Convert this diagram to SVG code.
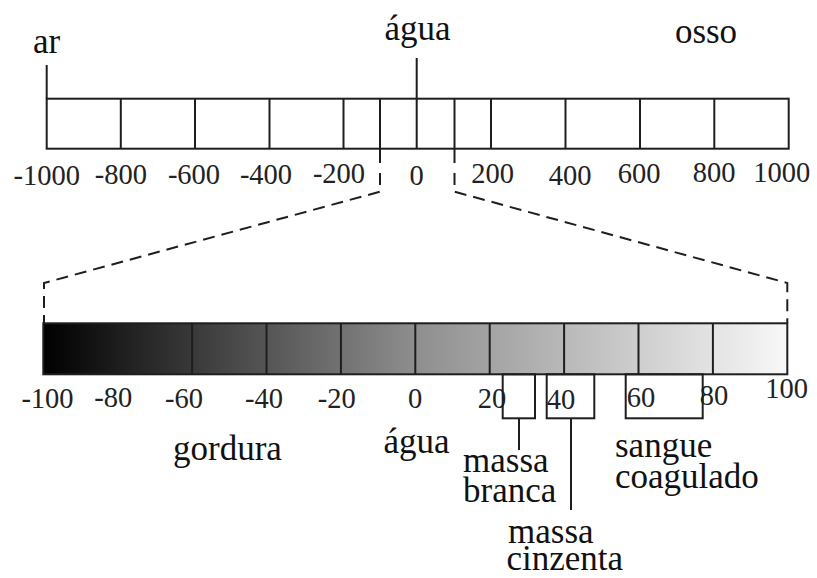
<svg xmlns="http://www.w3.org/2000/svg" width="817" height="578" viewBox="0 0 817 578">
<style>
.ln{stroke:#1e1e1e;stroke-width:2;fill:none}
.ds{stroke:#1e1e1e;stroke-width:2;fill:none;stroke-dasharray:12 7}
.lb{font-family:"Liberation Serif","Times New Roman",serif;font-size:35px;fill:#111}
.nm{font-family:"Liberation Serif","Times New Roman",serif;font-size:28.5px;fill:#222;text-anchor:middle}
</style>
<defs>
<linearGradient id="g" x1="43" y1="0" x2="787" y2="0" gradientUnits="userSpaceOnUse">
<stop offset="0" stop-color="#000"/>
<stop offset="0.5" stop-color="#8e8e8e"/>
<stop offset="1" stop-color="#f8f8f8"/>
</linearGradient>
</defs>
<rect width="817" height="578" fill="#fff"/>

<g id="top-scale">
<rect x="46.7" y="98.7" width="742" height="50" class="ln"/>
<path class="ln" d="M120.8 98.7V148.7M195 98.7V148.7M269.5 98.7V148.7M343.5 98.7V148.7M380 98.7V163M416.7 58V148.7M454.5 98.7V163M491 98.7V148.7M565.5 98.7V148.7M640 98.7V148.7M714.3 98.7V148.7M46.7 65V98.7"/>
<text class="nm" x="46.7" y="185">-1000</text>
<text class="nm" x="120.8" y="184">-800</text>
<text class="nm" x="194" y="184">-600</text>
<text class="nm" x="266" y="184">-400</text>
<text class="nm" x="339" y="183">-200</text>
<text class="nm" x="416.7" y="185">0</text>
<text class="nm" x="492.5" y="183">200</text>
<text class="nm" x="570" y="185">400</text>
<text class="nm" x="639" y="183">600</text>
<text class="nm" x="714" y="182">800</text>
<text class="nm" x="781.7" y="182">1000</text>
</g>

<g id="top-labels">
<text class="lb" x="33" y="53">ar</text>
<text class="lb" x="417.5" y="40" text-anchor="middle">água</text>
<text class="lb" x="706" y="43" text-anchor="middle">osso</text>
</g>

<g id="connectors">
<path class="ds" d="M380 173V191.7L44 283V323"/>
<path class="ds" d="M454.5 173V191.7L787.3 283V323"/>
</g>

<g id="bottom-scale">
<rect x="43.3" y="323.3" width="744" height="51" class="ln" style="fill:url(#g)"/>
<path class="ln" d="M117.7 323.3V374.3M192.1 323.3V374.3M266.5 323.3V374.3M340.9 323.3V374.3M415.3 323.3V374.3M489.7 323.3V374.3M564.1 323.3V374.3M638.5 323.3V374.3M712.9 323.3V374.3"/>
<text class="nm" x="47.5" y="408">-100</text>
<text class="nm" x="113.3" y="407">-80</text>
<text class="nm" x="184" y="408">-60</text>
<text class="nm" x="264" y="408">-40</text>
<text class="nm" x="336.7" y="408">-20</text>
<text class="nm" x="415" y="408">0</text>
<text class="nm" x="492" y="408">20</text>
<text class="nm" x="561" y="409">40</text>
<text class="nm" x="641" y="407">60</text>
<text class="nm" x="714" y="405">80</text>
<text class="nm" x="786.7" y="398">100</text>
</g>

<g id="brackets">
<rect x="502.7" y="374.3" width="32.3" height="44" class="ln"/>
<path class="ln" d="M519 418.3V450"/>
<rect x="546.7" y="374.3" width="47.6" height="44" class="ln"/>
<path class="ln" d="M571 418.3V510"/>
<rect x="625.7" y="374.3" width="77" height="44" class="ln"/>
</g>

<g id="bottom-labels">
<text class="lb" x="173" y="460">gordura</text>
<text class="lb" x="416.5" y="453" text-anchor="middle">água</text>
<text class="lb" x="463" y="472">massa</text>
<text class="lb" x="463" y="502">branca</text>
<text class="lb" x="508" y="543">massa</text>
<text class="lb" x="506.5" y="570">cinzenta</text>
<text class="lb" x="615" y="457">sangue</text>
<text class="lb" x="615" y="488">coagulado</text>
</g>
</svg>
